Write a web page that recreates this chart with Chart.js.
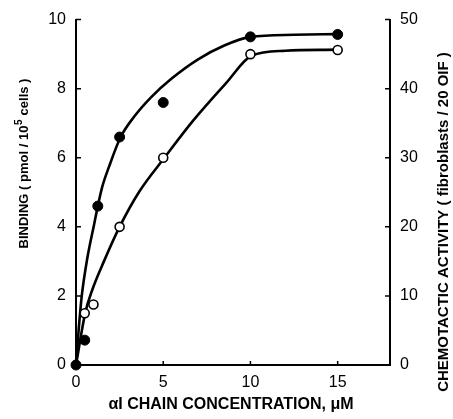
<!DOCTYPE html>
<html>
<head>
<meta charset="utf-8">
<script src="https://cdn.jsdelivr.net/npm/chart.js@4.4.1/dist/chart.umd.min.js"></script>
<style>
  html, body { margin: 0; padding: 0; background: #fff; }
  #wrap { width: 453px; height: 419px; position: relative; }
</style>
</head>
<body>
<div id="wrap"><canvas id="myChart"></canvas></div>
<script>
// binding (filled circles, left axis)
const bindConc = [0, 0.5, 1.25, 2.5, 5, 10, 15];
const bindValues = [0, 0.72, 4.6, 6.6, 7.6, 9.5, 9.57];
// chemotactic activity (open circles, right axis)
const chemoConc = [0.5, 1, 2.5, 5, 10, 15];
const chemoValues = [7.5, 8.75, 20, 30, 45, 45.6];

// fitted curves as drawn in the figure
const bindCurveX = [0, 0.15, 0.33, 0.65, 1.05, 1.25, 1.5, 1.9, 2.54, 3.35, 4.3, 5.5, 7, 8.5, 10, 12.5, 15];
const bindCurveY = [0, 1.0, 2.0, 3.1, 4.1, 4.6, 5.15, 5.75, 6.58, 7.2, 7.75, 8.3, 8.85, 9.25, 9.5, 9.56, 9.58];
const chemoCurveX = [0, 0.53, 0.95, 1.6, 2.47, 3.64, 5.07, 6.69, 8.6, 10.08, 12, 15];
const chemoCurveY = [0, 7.55, 11, 15, 19.85, 25.15, 30, 35.3, 40.8, 44.8, 45.5, 45.65];

const xTicks = [0, 5, 10, 15];
const yTicks = [0, 2, 4, 6, 8, 10];
const y2Ticks = [0, 10, 20, 30, 40, 50];

const xTitle = "\u03b1I CHAIN CONCENTRATION, \u03bcM";
const yTitleParts = ["BINDING ( pmol / 10", "5", " cells )"];
const y2Title = "CHEMOTACTIC ACTIVITY ( fibroblasts / 20 OIF )";

const pts = (xs, ys) => xs.map((x, i) => ({ x: x, y: ys[i] }));
const tickFont = { family: "Liberation Sans", size: 16 };

const innerTicks = {
  id: "innerTicks",
  afterDraw(chart) {
    const c = chart.ctx;
    const a = chart.chartArea;
    const s = chart.scales;
    c.save();
    c.strokeStyle = "#000";
    c.lineWidth = 1.5;
    c.beginPath();
    yTicks.forEach(v => {
      const y = s.y.getPixelForValue(v);
      c.moveTo(a.left, y); c.lineTo(a.left + 5, y);
    });
    y2Ticks.forEach(v => {
      const y = s.y2.getPixelForValue(v);
      c.moveTo(a.right, y); c.lineTo(a.right - 5, y);
    });
    xTicks.forEach(v => {
      const x = s.x.getPixelForValue(v);
      c.moveTo(x, a.bottom); c.lineTo(x, a.bottom - 4);
    });
    c.stroke();

    c.fillStyle = "#000";
    c.textAlign = "center";
    c.textBaseline = "middle";
    c.font = "bold 16px 'Liberation Sans'";
    c.fillText(xTitle, 231, 405);

    // left title with superscript
    c.save();
    c.translate(24, 164);
    c.rotate(-Math.PI / 2);
    const big = "bold 13px 'Liberation Sans'";
    const small = "bold 10px 'Liberation Sans'";
    c.font = big;
    const w0 = c.measureText(yTitleParts[0]).width;
    const w2 = c.measureText(yTitleParts[2]).width;
    c.font = small;
    const w1 = c.measureText(yTitleParts[1]).width;
    let x0 = -(w0 + w1 + w2) / 2;
    c.textAlign = "left";
    c.font = big;
    c.fillText(yTitleParts[0], x0, 0);
    c.font = small;
    c.fillText(yTitleParts[1], x0 + w0 + 0.5, -5);
    c.font = big;
    c.fillText(yTitleParts[2], x0 + w0 + w1 + 1, 0);
    c.restore();

    c.save();
    c.translate(444, 222);
    c.rotate(-Math.PI / 2);
    c.font = "bold 15px 'Liberation Sans'";
    c.fillText(y2Title, 0, 0);
    c.restore();
    c.restore();
  }
};

const ctx = document.getElementById("myChart").getContext("2d");
const chart = new Chart(ctx, {
  type: "scatter",
  data: {
    datasets: [
      {
        data: pts(bindConc, bindValues),
        yAxisID: "y",
        pointRadius: 5,
        pointBackgroundColor: "#000",
        pointBorderColor: "#000",
        pointBorderWidth: 1,
        showLine: false,
        clip: false,
        order: 0
      },
      {
        data: pts(chemoConc, chemoValues),
        yAxisID: "y2",
        pointRadius: 4.5,
        pointBackgroundColor: "#fff",
        pointBorderColor: "#000",
        pointBorderWidth: 1.6,
        showLine: false,
        clip: false,
        order: 0
      },
      {
        type: "line",
        data: pts(bindCurveX, bindCurveY),
        yAxisID: "y",
        borderColor: "#000",
        borderWidth: 2.6,
        pointRadius: 0,
        cubicInterpolationMode: "monotone",
        clip: false,
        order: 1
      },
      {
        type: "line",
        data: pts(chemoCurveX, chemoCurveY),
        yAxisID: "y2",
        borderColor: "#000",
        borderWidth: 2.6,
        pointRadius: 0,
        cubicInterpolationMode: "monotone",
        clip: false,
        order: 1
      }
    ]
  },
  options: {
    responsive: true,
    maintainAspectRatio: false,
    animation: false,
    layout: { padding: { top: 17, left: 0, right: 0, bottom: 0 } },
    plugins: { legend: { display: false }, tooltip: { enabled: false } },
    scales: {
      x: {
        type: "linear",
        min: 0,
        max: 18,
        afterBuildTicks: s => { s.ticks = xTicks.map(v => ({ value: v })); },
        afterFit: s => { s.height = 54; },
        grid: { display: false, drawTicks: false },
        border: { display: true, color: "#000", width: 2 },
        ticks: { color: "#000", font: tickFont, padding: 8, maxRotation: 0 }
      },
      y: {
        position: "left",
        min: 0,
        max: 10,
        afterBuildTicks: s => { s.ticks = yTicks.map(v => ({ value: v })); },
        afterFit: s => { s.width = 76; },
        grid: { display: false, drawTicks: false },
        border: { display: true, color: "#000", width: 2 },
        ticks: { color: "#000", font: tickFont, padding: 10 }
      },
      y2: {
        position: "right",
        min: 0,
        max: 50,
        afterBuildTicks: s => { s.ticks = y2Ticks.map(v => ({ value: v })); },
        afterFit: s => { s.width = 63; },
        grid: { display: false, drawTicks: false },
        border: { display: true, color: "#000", width: 2 },
        ticks: { color: "#000", font: tickFont, padding: 10 }
      }
    }
  },
  plugins: [innerTicks]
});
</script>
</body>
</html>
